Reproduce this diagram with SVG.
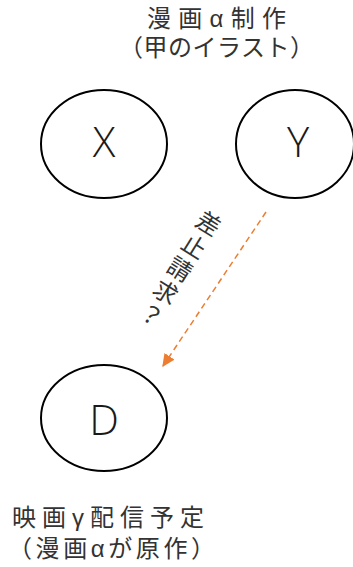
<svg xmlns="http://www.w3.org/2000/svg" width="353" height="567" viewBox="0 0 353 567">
<style>
.node{fill:#fff;stroke:#000;stroke-width:2}
.lbl{font-family:"Open Sans","Liberation Sans",sans-serif;font-weight:300;font-size:42px;fill:#1a1a1a;text-anchor:middle;dominant-baseline:central}
.jp{font-family:"Liberation Sans","Noto Sans CJK JP",sans-serif;font-size:24px;fill:#333}
.edge{stroke:#ED7D31;stroke-width:1.5;fill:none;stroke-dasharray:6 4}
</style>
<defs>
<marker id="ah" viewBox="0 0 10 10" refX="9" refY="5" markerWidth="13" markerHeight="12" orient="auto" markerUnits="userSpaceOnUse" preserveAspectRatio="none">
<path d="M0,0L10,5L0,10z" fill="#ED7D31"/>
</marker>
</defs>
<g id="caption-top">
<text class="jp" x="147" y="27" textLength="139" lengthAdjust="spacing">漫画α制作</text>
<text class="jp" x="119" y="56" textLength="195" lengthAdjust="spacing">（甲のイラスト）</text>
</g>
<g id="node-X">
<ellipse class="node" cx="104" cy="144" rx="63" ry="54"/>
<text class="lbl" x="104" y="140">X</text>
</g>
<g id="node-Y">
<ellipse class="node" cx="295" cy="144" rx="59" ry="54"/>
<text class="lbl" x="298" y="140">Y</text>
</g>
<g id="node-D">
<ellipse class="node" cx="104" cy="418" rx="63" ry="53"/>
<text class="lbl" x="104" y="418">D</text>
</g>
<g id="connectors">
<line class="edge" x1="266" y1="212" x2="163" y2="366" marker-end="url(#ah)"/>
<text class="jp" transform="translate(215,213) rotate(32)" style="writing-mode:vertical-rl;font-family:'Noto Sans CJK JP',sans-serif;font-size:24px;letter-spacing:3px" x="0" y="0">差止請求？</text>
</g>
<g id="caption-bottom">
<text class="jp" x="12" y="526" textLength="192" lengthAdjust="spacing">映画γ配信予定</text>
<text class="jp" x="8" y="557" textLength="207" lengthAdjust="spacing">（漫画αが原作）</text>
</g>
</svg>
